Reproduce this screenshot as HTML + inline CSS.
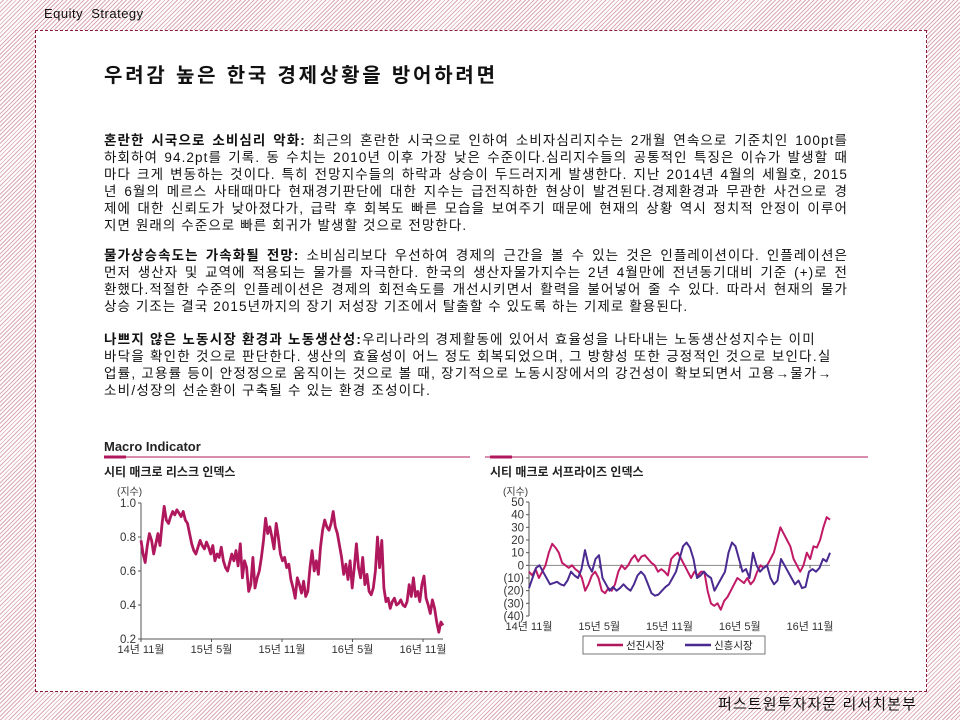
<!DOCTYPE html>
<html><head><meta charset="utf-8">
<style>
body{margin:0;width:960px;height:720px;overflow:hidden;position:relative;
background:repeating-linear-gradient(135deg,#fff 0,#fff 2px,#dcaab4 2px,#dcaab4 3px);
font-family:"Liberation Sans","Noto Sans CJK KR",sans-serif;color:#111}
#hdr{position:absolute;left:44px;top:6px;font-size:13px;color:#111;letter-spacing:0.5px;word-spacing:4px}
#box{position:absolute;left:35px;top:30px;width:890px;height:660px;background:#fff;border:1px dashed #8a1a3a}
#title{position:absolute;left:104px;top:59px;font-size:20px;font-weight:bold;letter-spacing:2.8px}
.p{position:absolute;left:104px;width:744px;font-size:13.5px;line-height:17px;letter-spacing:1.1px}
.p div{white-space:nowrap;text-align:justify;text-align-last:justify}
.p div.l{text-align-last:left}
.p3{letter-spacing:1.25px}
#foot{position:absolute;left:718px;top:693px;font-size:15px;letter-spacing:1.1px}
svg{position:absolute;left:0;top:0}
</style></head><body>
<div id="hdr">Equity Strategy</div>
<div id="box"></div>
<div id="title">우려감 높은 한국 경제상황을 방어하려면</div>
<div class="p" style="top:132px">
<div><b>혼란한 시국으로 소비심리 악화:</b> 최근의 혼란한 시국으로 인하여 소비자심리지수는 2개월 연속으로 기준치인 100pt를</div>
<div>하회하여 94.2pt를 기록. 동 수치는 2010년 이후 가장 낮은 수준이다.심리지수들의 공통적인 특징은 이슈가 발생할 때</div>
<div>마다 크게 변동하는 것이다. 특히 전망지수들의 하락과 상승이 두드러지게 발생한다. 지난 2014년 4월의 세월호, 2015</div>
<div>년 6월의 메르스 사태때마다 현재경기판단에 대한 지수는 급전직하한 현상이 발견된다.경제환경과 무관한 사건으로 경</div>
<div>제에 대한 신뢰도가 낮아졌다가, 급락 후 회복도 빠른 모습을 보여주기 때문에 현재의 상황 역시 정치적 안정이 이루어</div>
<div class="l">지면 원래의 수준으로 빠른 회귀가 발생할 것으로 전망한다.</div>
</div>
<div class="p" style="top:247px">
<div><b>물가상승속도는 가속화될 전망:</b> 소비심리보다 우선하여 경제의 근간을 볼 수 있는 것은 인플레이션이다. 인플레이션은</div>
<div>먼저 생산자 및 교역에 적용되는 물가를 자극한다. 한국의 생산자물가지수는 2년 4월만에 전년동기대비 기준 (+)로 전</div>
<div>환했다.적절한 수준의 인플레이션은 경제의 회전속도를 개선시키면서 활력을 불어넣어 줄 수 있다. 따라서 현재의 물가</div>
<div class="l">상승 기조는 결국 2015년까지의 장기 저성장 기조에서 탈출할 수 있도록 하는 기제로 활용된다.</div>
</div>
<div class="p p3" style="top:331px">
<div class="l"><b>나쁘지 않은 노동시장 환경과 노동생산성:</b>우리나라의 경제활동에 있어서 효율성을 나타내는 노동생산성지수는 이미</div>
<div class="l">바닥을 확인한 것으로 판단한다. 생산의 효율성이 어느 정도 회복되었으며, 그 방향성 또한 긍정적인 것으로 보인다.실</div>
<div class="l">업률, 고용률 등이 안정정으로 움직이는 것으로 볼 때, 장기적으로 노동시장에서의 강건성이 확보되면서 고용→물가→</div>
<div class="l">소비/성장의 선순환이 구축될 수 있는 환경 조성이다.</div>
</div>
<div id="foot">퍼스트원투자자문 리서치본부</div>

<svg id="c" width="960" height="720" font-family="Liberation Sans, Noto Sans CJK KR, sans-serif">
<text x="104" y="451" font-size="13" font-weight="bold" fill="#222">Macro Indicator</text>
<line x1="104" y1="457" x2="868" y2="457" stroke="#b0185e" stroke-width="1"/>
<line x1="104" y1="457" x2="126" y2="457" stroke="#b0185e" stroke-width="3"/>
<line x1="470" y1="457" x2="485" y2="457" stroke="#fff" stroke-width="4"/>
<line x1="490" y1="457" x2="512" y2="457" stroke="#b0185e" stroke-width="3"/>
<text x="104" y="476" font-size="12" font-weight="bold" fill="#222">시티 매크로 리스크 인덱스</text>
<text x="490" y="476" font-size="12" font-weight="bold" fill="#222">시티 매크로 서프라이즈 인덱스</text>
<text x="117" y="495" font-size="10" fill="#333">(지수)</text>
<text x="503" y="495" font-size="10" fill="#333">(지수)</text>
<g id="g"></g>
<rect x="583" y="636" width="182" height="18" fill="#fff" stroke="#555" stroke-width="0.8"/>
<line x1="597" y1="645" x2="623" y2="645" stroke="#b0185e" stroke-width="2.5"/>
<text x="626" y="649" font-size="10.5" fill="#222">선진시장</text>
<line x1="685" y1="645" x2="711" y2="645" stroke="#4a2a90" stroke-width="2.5"/>
<text x="714" y="649" font-size="10.5" fill="#222">신흥시장</text>
</svg>
<script>
const xLabels=["14년 11월","15년 5월","15년 11월","16년 5월","16년 11월"];
const riskTicks=[1.0,0.8,0.6,0.4,0.2];
const riskValues=[0.78,0.70,0.65,0.75,0.82,0.78,0.70,0.76,0.82,0.75,0.88,0.98,0.90,0.88,0.92,0.95,0.93,0.96,0.94,0.92,0.95,0.90,0.88,0.82,0.76,0.72,0.70,0.74,0.78,0.75,0.73,0.77,0.74,0.70,0.75,0.66,0.70,0.68,0.74,0.66,0.62,0.60,0.65,0.70,0.66,0.72,0.63,0.76,0.56,0.66,0.62,0.48,0.52,0.68,0.50,0.56,0.60,0.68,0.78,0.91,0.82,0.86,0.80,0.73,0.88,0.80,0.70,0.66,0.68,0.62,0.64,0.55,0.50,0.44,0.56,0.52,0.47,0.54,0.45,0.48,0.62,0.72,0.60,0.66,0.58,0.74,0.84,0.90,0.86,0.84,0.88,0.95,0.86,0.82,0.75,0.68,0.58,0.64,0.55,0.66,0.50,0.62,0.76,0.62,0.56,0.68,0.52,0.58,0.48,0.46,0.50,0.60,0.80,0.62,0.78,0.50,0.42,0.44,0.38,0.42,0.44,0.40,0.41,0.43,0.40,0.39,0.42,0.52,0.45,0.56,0.45,0.48,0.42,0.52,0.57,0.44,0.40,0.35,0.43,0.38,0.30,0.24,0.30,0.28];
const surpriseTicks=[50,40,30,20,10,0,-10,-20,-30,-40];
const advancedValues=[-5,-8,-3,-10,-5,0,10,17,14,10,2,0,-2,0,-3,-5,-10,-20,-15,-8,-5,-10,-20,-22,-18,-20,-15,-5,0,-3,0,5,8,3,7,8,5,2,0,-5,-3,-5,-8,5,8,10,5,0,-5,-10,-5,-8,-5,-5,-20,-30,-32,-30,-35,-28,-25,-20,-15,-10,-12,-14,-10,-15,-12,-5,0,-2,0,5,10,20,30,25,20,15,5,0,-5,0,10,5,15,14,20,30,38,36];
const emergingValues=[-18,-10,-2,0,-5,-10,-15,-14,-13,-15,-16,-12,-5,-8,-10,-3,12,0,-5,5,8,-10,-15,-20,-17,-20,-18,-15,-18,-20,-15,-8,-5,-8,-15,-22,-24,-23,-20,-17,-15,-10,-5,5,15,18,14,5,-10,-8,-5,-8,-10,-20,-15,-10,-5,10,18,15,5,-5,-3,-10,10,0,-5,-2,0,-10,-15,-12,5,0,-5,-10,-15,-12,-18,-17,-5,-3,-5,-2,5,3,10];

const NS="http://www.w3.org/2000/svg",g=document.getElementById('g');
function mk(t,a){const e=document.createElementNS(NS,t);for(const k in a)e.setAttribute(k,a[k]);g.appendChild(e);return e;}
function fmt(v){return v<0?"("+(-v)+")":String(v);}
const L={x0:141,x1:443,y0:639,y1:503,vmin:0.2,vmax:1.0};
const Ly=v=>L.y0-(v-L.vmin)/(L.vmax-L.vmin)*(L.y0-L.y1);
const R={x0:529,x1:830,y0:616,y1:502,vmin:-40,vmax:50};
const Ry=v=>R.y0-(v-R.vmin)/(R.vmax-R.vmin)*(R.y0-R.y1);
function axes(C,yf,ticks,dec,ax){
  let e=mk('line',{x1:C.x0,y1:C.y1,x2:C.x0,y2:C.y0,stroke:'#555','stroke-width':1});
  
  
  ticks.forEach(t=>{
    const y=yf(t);
    mk('line',{x1:C.x0-3,y1:y,x2:C.x0,y2:y,stroke:'#555'});
    const tx=mk('text',{x:C.x0-5,y:y+4,'font-size':11.5,'text-anchor':'end',fill:'#333'});
    tx.textContent=dec?t.toFixed(1):fmt(t);
    
    
  });
  const by=ax==='left'?C.y0:yf(0);
  e=mk('line',{x1:C.x0,y1:by,x2:C.x1,y2:by,stroke:ax==='left'?'#555':'#888','stroke-width':1});
  
  
  xLabels.forEach((s,i)=>{
    const x=C.x0+i*(C.x1-C.x0-20)/(xLabels.length-1);
    mk('line',{x1:x,y1:by,x2:x,y2:by+3,stroke:'#555'});
    const tx=mk('text',{x:x,y:C.y0+14,'font-size':11,'text-anchor':'middle',fill:'#333'});
    tx.textContent=s;
    
    
  });
}
function line(C,yf,vals,color,name,w){
  const n=vals.length,pts=vals.map((v,i)=>(C.x0+i*(C.x1-C.x0)/(n-1)).toFixed(1)+","+yf(v).toFixed(1)).join(" ");
  const p=mk('polyline',{points:pts,fill:'none',stroke:color,'stroke-width':w,'stroke-linejoin':'round'});
  
  
}
axes(L,Ly,riskTicks,true,'left');
line(L,Ly,riskValues,'#b0185e','risk-index-line',2.8);
axes(R,Ry,surpriseTicks,false,'right');
line(R,Ry,advancedValues,'#c01a66','advanced-markets-line',2);
line(R,Ry,emergingValues,'#4a2a90','emerging-markets-line',2);
</script>
</body></html>
